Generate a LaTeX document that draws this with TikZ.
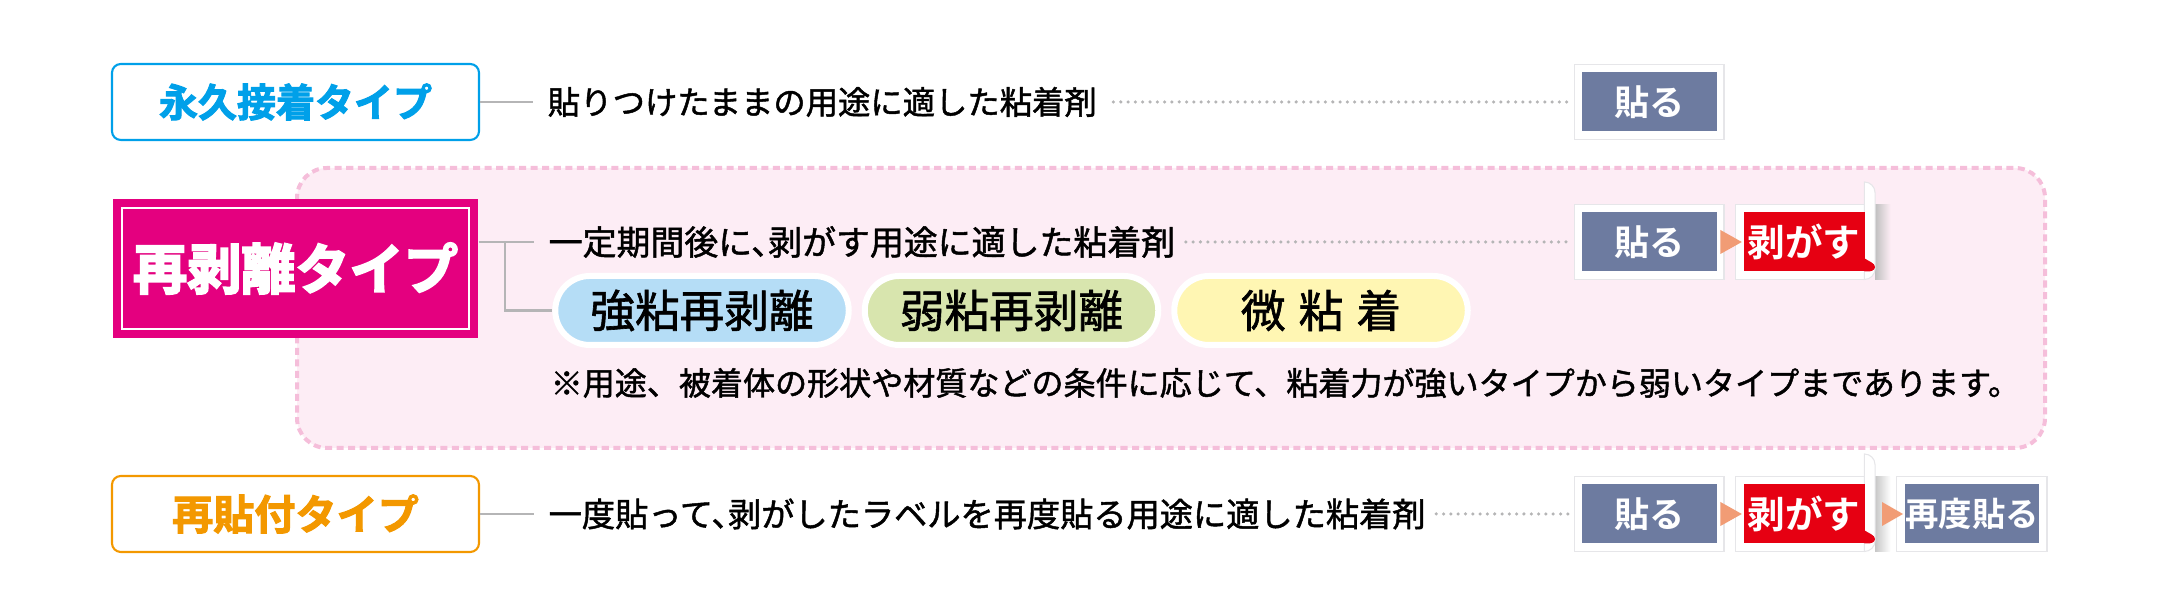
\documentclass[tikz,border=0pt]{standalone}
\usepackage{fontspec}
\setmainfont{Noto Sans CJK JP}
\newfontfamily\medgoth{Noto Sans CJK JP}[FakeBold=1.4]
\newfontfamily\boldgoth{Noto Sans CJK JP}[UprightFont=* Bold]
\newfontfamily\heavygoth{Noto Sans CJK JP}[UprightFont=* Bold,FakeBold=2.5]
\newfontfamily\blackgoth{Noto Sans CJK JP}[UprightFont=* Bold,FakeBold=3.8]
\usepackage{tikz}
\usetikzlibrary{positioning}
\definecolor{bleu}{HTML}{00A0E9}
\definecolor{magenta2}{HTML}{E4007F}
\definecolor{orange2}{HTML}{F39800}
\definecolor{rosefond}{HTML}{FDEDF5}
\definecolor{rosetrait}{HTML}{F5BEDA}
\definecolor{gris}{HTML}{B5B5B6}
\definecolor{ardoise}{HTML}{6D7BA0}
\definecolor{rouge}{HTML}{E60012}
\definecolor{saumon}{HTML}{F19C75}
\definecolor{bordure}{HTML}{E6E6E9}
\definecolor{ciel}{HTML}{B5DDF6}
\definecolor{tilleul}{HTML}{D8E5AE}
\definecolor{paille}{HTML}{FFF6B3}
\tikzstyle{trait} = [gris,line width=0.6pt]
\tikzstyle{points} = [gris,line width=1pt,line cap=round,dash pattern=on 0pt off 2.08pt]
\tikzstyle{typebox} = [draw,fill=white,line width=0.6pt,rounded corners=2.5pt,minimum width=3.67cm,minimum height=0.76cm,inner sep=0pt]
\tikzstyle{desc} = [anchor=west,inner sep=0pt,font=\medgoth\fontsize{9.2}{11}\selectfont]
\tikzstyle{cadre} = [draw=bordure,fill=white,line width=0.35pt,minimum height=0.75cm,inner sep=0pt]
\tikzstyle{etape} = [text=white,inner sep=0pt,minimum height=0.59cm,font=\boldgoth\fontsize{10}{11}\selectfont]
\tikzstyle{pilule} = [draw=white,line width=1.7pt,rounded corners=0.345cm,minimum width=2.935cm,minimum height=0.69cm,inner sep=0pt,font=\medgoth\fontsize{12.7}{14}\selectfont]
\tikzstyle{fleche} = [fill=saumon,draw=none]

\begin{document}
\begin{tikzpicture}

	\useasboundingbox (0,0) rectangle (21.6,6.16);

	\draw[rosetrait,fill=rosefond,line width=1.14pt,dash pattern=on 2pt off 1.28pt,rounded corners=0.3cm] (2.97,4.48) rectangle (20.45,1.68);

	% types
	\node[typebox,draw=bleu,text=bleu,font=\heavygoth\fontsize{11.1}{13}\selectfont] (perm) at (2.955,5.14) {永久接着タイプ};
	\node[fill=magenta2,minimum width=3.65cm,minimum height=1.39cm,inner sep=0pt] (mag) at (2.955,3.475) {};
	\node[draw=white,line width=0.45pt,minimum width=3.47cm,minimum height=1.21cm,inner sep=0pt,text=white,font=\blackgoth\fontsize{15.4}{17}\selectfont] (magin) at (2.955,3.475) {再剥離タイプ};
	\node[typebox,draw=orange2,text=orange2,font=\heavygoth\fontsize{11.7}{14}\selectfont] (repo) at (2.955,1.02) {再貼付タイプ};

	% textes
	\node[desc] (txtA) at (5.47,5.14) {貼りつけたままの用途に適した粘着剤};
	\node[desc,font=\medgoth\fontsize{9.65}{11}\selectfont] (txtB) at (5.48,3.74) {一定期間後に、\hspace{-0.5em}剥がす用途に適した粘着剤};
	\node[desc,font=\medgoth\fontsize{9.45}{11}\selectfont] (txtC) at (5.48,1.02) {一度貼って、\hspace{-0.5em}剥がしたラベルを再度貼る用途に適した粘着剤};
	\node[desc,font=\medgoth\fontsize{9.12}{11}\selectfont] (note) at (5.50,2.33) {※用途、被着体の形状や材質などの条件に応じて、粘着力が強いタイプから弱いタイプまであります。};

	\node[pilule,fill=ciel] (pilA) at (7.02,3.055) {強粘再剥離};
	\node[pilule,fill=tilleul] (pilB) at (10.115,3.055) {弱粘再剥離};
	\node[pilule,fill=paille] (pilC) at (13.21,3.055) {\spaceskip=3.75pt 微 粘 着};

	% cadres
	\node[cadre,minimum width=1.496cm] (cadA) at (16.492,5.14) {};
	\node[etape,fill=ardoise,minimum width=1.347cm] (colA) at (16.492,5.14) {貼る};

	\node[cadre,minimum width=1.496cm] (cadB) at (16.492,3.74) {};
	\node[etape,fill=ardoise,minimum width=1.347cm] (colB) at (16.492,3.74) {貼る};
	\node[cadre,minimum width=1.294cm] (cadD) at (18.0,3.74) {};
	\shade[left color=black!25,right color=rosefond] (18.75,3.365) rectangle (18.905,4.115);
	\draw[bordure,fill=white,line width=0.3pt] (18.644,4.34) arc (90:0:0.106) -- (18.75,3.471) arc (0:-90:0.106) -- cycle;
	\node[etape,fill=rouge,minimum width=1.21cm,font=\boldgoth\fontsize{10.7}{12}\selectfont] (decB) at (18.04,3.74) {剥がす};
	\fill[rouge] (18.644,3.445) -- (18.644,3.577) .. controls (18.68,3.55) and (18.75,3.53) .. (18.75,3.49) .. controls (18.75,3.455) and (18.71,3.445) .. (18.67,3.445) -- cycle;

	\node[cadre,minimum width=1.496cm] (cadC) at (16.492,1.02) {};
	\node[etape,fill=ardoise,minimum width=1.347cm] (colC) at (16.492,1.02) {貼る};
	\node[cadre,minimum width=1.294cm] (cadE) at (18.0,1.02) {};
	\shade[left color=black!22,right color=white] (18.75,0.645) rectangle (18.905,1.395);
	\draw[bordure,fill=white,line width=0.3pt] (18.644,1.62) arc (90:0:0.106) -- (18.75,0.751) arc (0:-90:0.106) -- cycle;
	\node[etape,fill=rouge,minimum width=1.21cm,font=\boldgoth\fontsize{10.7}{12}\selectfont] (decC) at (18.04,1.02) {剥がす};
	\fill[rouge] (18.644,0.725) -- (18.644,0.857) .. controls (18.68,0.83) and (18.75,0.81) .. (18.75,0.77) .. controls (18.75,0.735) and (18.71,0.725) .. (18.67,0.725) -- cycle;
	\node[cadre,minimum width=1.506cm] (cadF) at (19.717,1.02) {};
	\node[etape,fill=ardoise,minimum width=1.343cm,font=\boldgoth\fontsize{9.5}{11}\selectfont] (colF) at (19.72,1.02) {再度貼る};

	% fleches
	\fill[fleche] (17.204,3.86) -- (17.418,3.74) -- (17.204,3.62) -- cycle;
	\fill[fleche] (17.204,1.14) -- (17.418,1.02) -- (17.204,0.90) -- cycle;
	\fill[fleche] (18.82,1.14) -- (19.03,1.02) -- (18.82,0.90) -- cycle;

	% liaisons
	\draw[trait,shorten >=0.14cm] (perm.east) -- (txtA.west);
	\draw[trait,shorten >=0.14cm] (txtB.west -| mag.east) -- (txtB.west);
	\coordinate (branche) at (5.05,3.74);
	\draw[trait] (branche) |- (pilA.west);
	\draw[trait,shorten >=0.14cm] (repo.east) -- (txtC.west);

	\draw[points,shorten <=0.16cm,shorten >=0.03cm] (txtA.east) -- (cadA.west);
	\draw[points,shorten <=0.10cm,shorten >=0.03cm] (txtB.east) -- (cadB.west);
	\draw[points,shorten <=0.10cm,shorten >=0.03cm] (txtC.east) -- (cadC.west);

\end{tikzpicture}
\end{document}
